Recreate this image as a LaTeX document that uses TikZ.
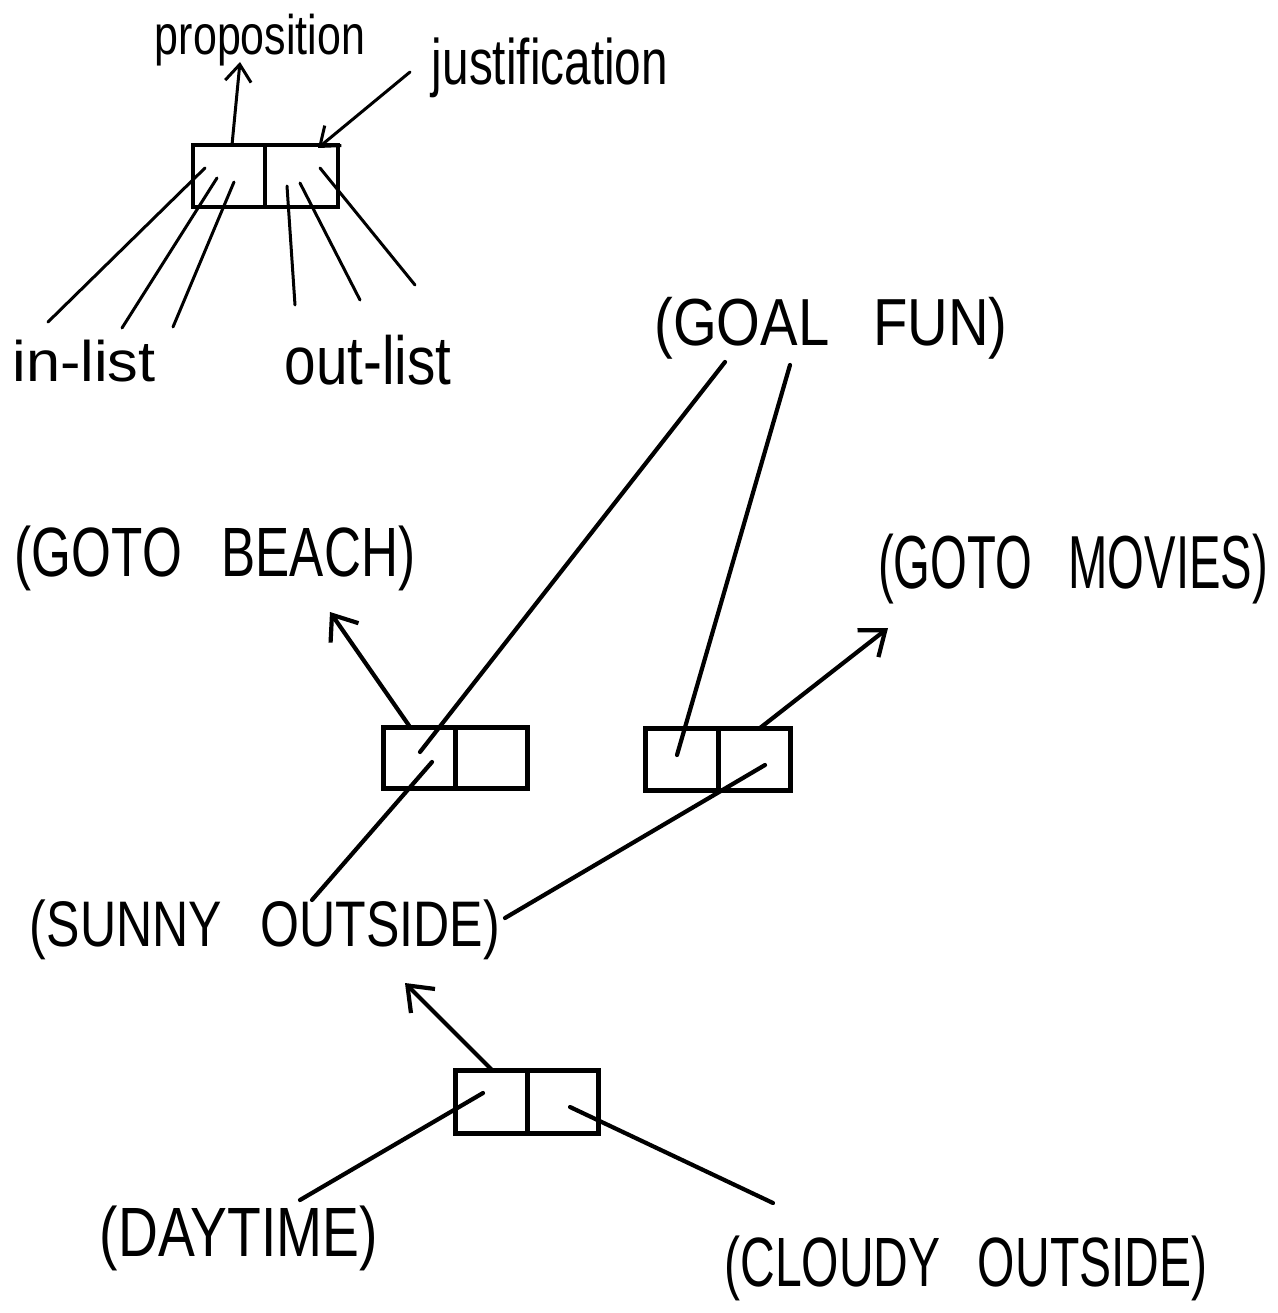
\documentclass[tikz,border=0pt]{standalone}
\usepackage{fontspec}
\setmainfont{Liberation Sans}
\usetikzlibrary{arrows.meta}
\newcommand{\hw}[3]{\resizebox*{#1pt}{#2pt}{#3}}
\begin{document}
\begin{tikzpicture}[x=1pt,y=-1pt,
  cell/.style={draw,line width=5pt,minimum width=72pt,minimum height=61pt,inner sep=0pt,line join=miter},
  thincell/.style={cell,line width=4.5pt},
  lbl/.style={inner sep=0pt,anchor=center},
  conn/.style={line width=4.2pt,line cap=round},
  thin/.style={line width=3pt,line cap=round},
  arr/.style={conn,-{Straight Barb[length=22pt,width=34pt,line width=4.2pt]}},
  thinarr/.style={thin,-{Straight Barb[length=17pt,width=26pt,line width=3pt]}}]
\useasboundingbox (0,0) rectangle (1277,1313);
\fill[white] (0,0) rectangle (1277,1313);

% ---------- legend ----------
\node[thincell,minimum width=72pt,minimum height=62pt] (lgl) at (229,176) {};
\node[thincell,minimum width=73pt,minimum height=62pt] (lgr) at (301.5,176) {};
\node[lbl] (prop) at (260,40) {\hw{210}{52}{proposition}};
\node[lbl] (just) at (550,68) {\hw{236}{60}{justification}};
\node[lbl] (inl) at (84,361) {\hw{143}{42}{in-list}};
\node[lbl] (outl) at (368,360) {\hw{167}{50}{out-list}};

\coordinate (propS) at (232,145);
\coordinate (propE) at (240,62);
\coordinate (justS) at (410,72);
\coordinate (justE) at (318,148);
\coordinate (i1a) at (205,168); \coordinate (i1b) at (48,322);
\coordinate (i2a) at (217,178); \coordinate (i2b) at (122,328);
\coordinate (i3a) at (234,182); \coordinate (i3b) at (173,327);
\coordinate (o1a) at (287,186); \coordinate (o1b) at (295,305);
\coordinate (o2a) at (300,183); \coordinate (o2b) at (360,300);
\coordinate (o3a) at (320,168); \coordinate (o3b) at (415,285);

\draw[thinarr] (propS) -- (propE);
\draw[thinarr] (justS) -- (justE);
\draw[thin] (i1a) -- (i1b);
\draw[thin] (i2a) -- (i2b);
\draw[thin] (i3a) -- (i3b);
\draw[thin] (o1a) -- (o1b);
\draw[thin] (o2a) -- (o2b);
\draw[thin] (o3a) -- (o3b);

% ---------- example ----------
\node[lbl] (goal) at (831,328) {\hw{353}{62}{(GOAL\hspace{0.5em} FUN)}};
\node[lbl] (beach) at (215,558) {\hw{400}{65}{(GOTO\hspace{0.5em} BEACH)}};
\node[lbl] (movies) at (1073,569) {\hw{390}{70}{(GOTO\hspace{0.5em} MOVIES)}};
\node[lbl] (sunny) at (265,930) {\hw{470}{60}{(SUNNY\hspace{0.5em} OUTSIDE)}};
\node[lbl] (day) at (239,1238) {\hw{278}{65}{(DAYTIME)}};
\node[lbl] (cloudy) at (966,1268) {\hw{483}{65}{(CLOUDY\hspace{0.5em} OUTSIDE)}};

\node[cell] (b1l) at (419,757.5) {};
\node[cell] (b1r) at (491,757.5) {};
\node[cell,minimum width=73pt,minimum height=62pt] (b2l) at (681.5,759) {};
\node[cell,minimum height=62pt] (b2r) at (754,759) {};
\node[cell,minimum height=63pt] (b3l) at (491,1101.5) {};
\node[cell,minimum width=71pt,minimum height=63pt] (b3r) at (562.5,1101.5) {};

\coordinate (g1) at (725,362);  \coordinate (g1e) at (420,752);
\coordinate (g2) at (790,365);  \coordinate (g2e) at (677,755);
\coordinate (b1s) at (410,727); \coordinate (b1e) at (330,612);
\coordinate (s1) at (312,900);  \coordinate (s1e) at (432,762);
\coordinate (b2s) at (760,728); \coordinate (b2e) at (888,628);
\coordinate (s2) at (505,918);  \coordinate (s2e) at (765,765);
\coordinate (b3s) at (492,1070); \coordinate (b3e) at (405,983);
\coordinate (d1) at (300,1200); \coordinate (d1e) at (483,1093);
\coordinate (c1) at (773,1203); \coordinate (c1e) at (570,1107);

\draw[conn] (g1) -- (g1e);
\draw[conn] (g2) -- (g2e);
\draw[arr] (b1s) -- (b1e);
\draw[conn] (s1) -- (s1e);
\draw[arr] (b2s) -- (b2e);
\draw[conn] (s2) -- (s2e);
\draw[arr] (b3s) -- (b3e);
\draw[conn] (d1) -- (d1e);
\draw[conn] (c1) -- (c1e);
\end{tikzpicture}
\end{document}
